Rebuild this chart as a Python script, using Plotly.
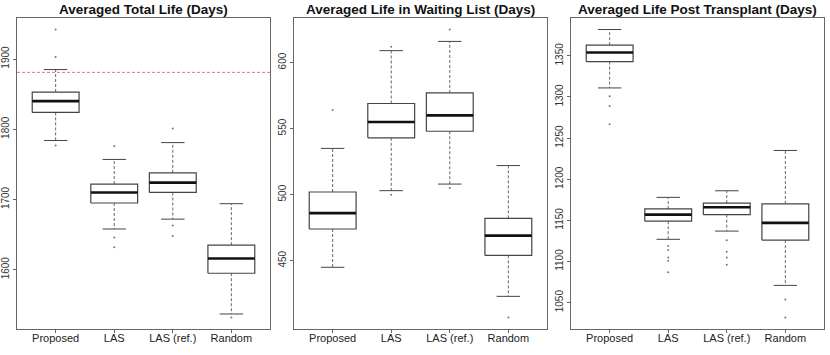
import plotly.graph_objects as go

categories = ["Proposed", "LAS", "LAS (ref.)", "Random"]

# Averaged Total Life
total_q1 = [1824, 1695, 1710, 1595]
total_med = [1840, 1710, 1724, 1616]
total_q3 = [1853, 1722, 1738, 1635]
total_lo = [1784, 1658, 1672, 1537]
total_hi = [1885, 1757, 1781, 1694]
total_out = [[1942, 1903, 1777], [1776, 1646, 1632], [1801, 1663, 1648], [1532]]
total_ref = 1881

# Averaged Life in Waiting List
wait_q1 = [474, 543, 548, 454]
wait_med = [486, 555, 560, 469]
wait_q3 = [502, 569, 577, 482]
wait_lo = [445, 503, 508, 423]
wait_hi = [535, 609, 616, 522]
wait_out = [[564], [612, 500], [625, 505], [407]]

# Averaged Life Post Transplant
post_q1 = [1343, 1149, 1157, 1126]
post_med = [1354, 1157, 1166, 1147]
post_q3 = [1363, 1164, 1171, 1170]
post_lo = [1311, 1127, 1137, 1071]
post_hi = [1382, 1178, 1186, 1235]
post_out = [[1301, 1289, 1267], [1119, 1114, 1105, 1101, 1087], [1126, 1112, 1105, 1096], [1054, 1032]]

panels = [
    ("Averaged Total Life (Days)", total_q1, total_med, total_q3, total_lo, total_hi, total_out, [1600, 1700, 1800, 1900]),
    ("Averaged Life in Waiting List (Days)", wait_q1, wait_med, wait_q3, wait_lo, wait_hi, wait_out, [450, 500, 550, 600]),
    ("Averaged Life Post Transplant (Days)", post_q1, post_med, post_q3, post_lo, post_hi, post_out, [1050, 1100, 1150, 1200, 1250, 1300, 1350]),
]

W, H = 830, 355
xdoms = [(17, 270), (294, 547), (571, 824)]
ytop, ybot = 18, 329
FONT = "Liberation Sans, Arial, sans-serif"
hw, sw = 0.4, 0.2  # half box width, half staple width

fig = go.Figure()
layout = {}
annotations = []

for k, (title, q1, med, q3, lo, hi, out, ticks) in enumerate(panels):
    sfx = "" if k == 0 else str(k + 1)
    xa, ya = "x" + sfx, "y" + sfx

    bx, by, mx, my, wx, wy, stx, sty, ox, oy = [], [], [], [], [], [], [], [], [], []
    for i in range(len(categories)):
        c = i + 1
        bx += [c - hw, c + hw, c + hw, c - hw, c - hw, None]
        by += [q1[i], q1[i], q3[i], q3[i], q1[i], None]
        mx += [c - hw, c + hw, None]
        my += [med[i], med[i], None]
        wx += [c, c, None, c, c, None]
        wy += [q3[i], hi[i], None, q1[i], lo[i], None]
        stx += [c - sw, c + sw, None, c - sw, c + sw, None]
        sty += [hi[i], hi[i], None, lo[i], lo[i], None]
        ox += [c] * len(out[i])
        oy += out[i]

    common = dict(xaxis=xa, yaxis=ya, showlegend=False, hoverinfo="skip")
    fig.add_trace(go.Scatter(x=wx, y=wy, mode="lines", line=dict(color="#666", width=1, dash="3px,2px"), **common))
    fig.add_trace(go.Scatter(x=stx, y=sty, mode="lines", line=dict(color="#444", width=1), **common))
    fig.add_trace(go.Scatter(x=bx, y=by, mode="lines", line=dict(color="#444", width=1.2), **common))
    fig.add_trace(go.Scatter(x=mx, y=my, mode="lines", line=dict(color="#111", width=2.6), **common))
    fig.add_trace(go.Scatter(x=ox, y=oy, mode="markers", marker=dict(color="#777", size=2), **common))

    allv = lo + hi + [v for o in out for v in o]
    vmin, vmax = min(allv), max(allv)
    pad = (vmax - vmin) * 0.04

    d0, d1 = xdoms[k]
    layout["xaxis" + sfx] = dict(
        domain=[d0 / W, d1 / W], anchor=ya, range=[0.34, 4.66],
        tickmode="array", tickvals=[1, 2, 3, 4], ticktext=categories,
        ticks="outside", ticklen=3, tickcolor="#666", ticklabelstandoff=-4,
        showline=True, mirror=True, linecolor="#666", linewidth=1,
        showgrid=False, zeroline=False,
        tickfont=dict(family=FONT, size=11, color="#222"),
    )
    layout["yaxis" + sfx] = dict(
        domain=[1 - ybot / H, 1 - ytop / H], anchor=xa, range=[vmin - pad, vmax + pad],
        tickmode="array", tickvals=ticks, tickangle=-90,
        ticks="outside", ticklen=3, tickcolor="#666",
        showline=True, mirror=True, linecolor="#666", linewidth=1,
        showgrid=False, zeroline=False,
        tickfont=dict(family=FONT, size=10, color="#333"),
    )
    annotations.append(dict(
        text="<b>" + title + "</b>", xref="paper", yref="paper",
        x=(d0 + d1) / 2 / W, y=1 - 10 / H, xanchor="center", yanchor="middle",
        showarrow=False, font=dict(family=FONT, size=13.5, color="#111"),
    ))

fig.update_layout(
    width=W, height=H, margin=dict(l=0, r=0, t=0, b=0),
    paper_bgcolor="white", plot_bgcolor="white",
    annotations=annotations, **layout,
)

# reference line on the first panel
fig.add_shape(type="line", xref="x domain", yref="y", x0=0, x1=1, y0=total_ref, y1=total_ref,
              line=dict(color="#f07070", width=1, dash="3px,2px"))

# page has a default 8px body margin; remove it so the figure sits at the window origin
fig.write_html("out.html", config={"displayModeBar": False},
               post_script="document.body.style.margin='0';")
